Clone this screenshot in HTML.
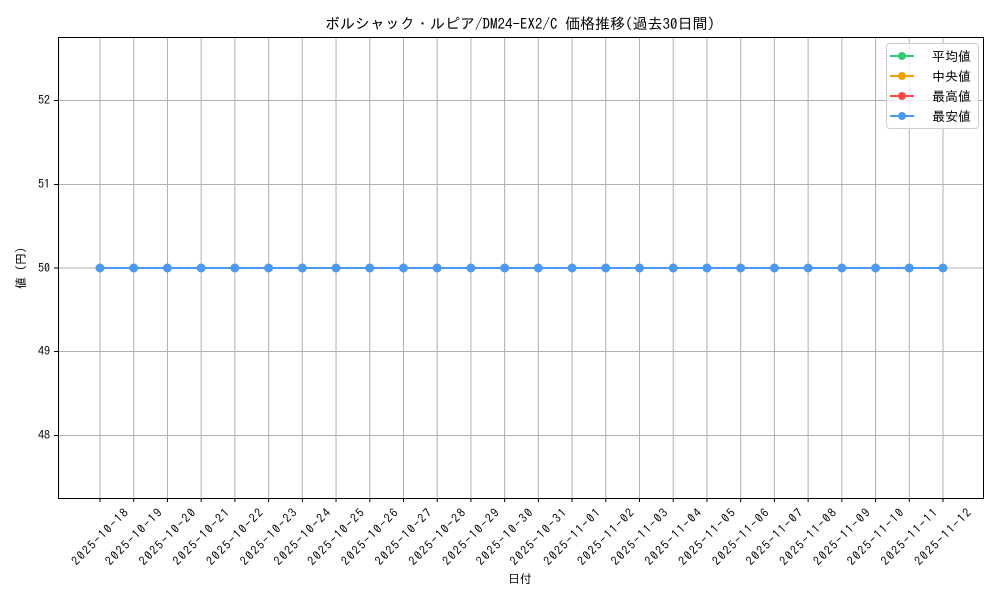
<!DOCTYPE html>
<html><head><meta charset="utf-8"><style>
html,body{margin:0;padding:0;background:#fff;}
svg{display:block;font-family:"IPAGothic","Liberation Sans","Noto Sans CJK JP",sans-serif;}
</style></head><body>
<svg width="1000" height="600" xmlns="http://www.w3.org/2000/svg">
<rect width="1000" height="600" fill="#fff"/>
<g stroke="#b0b0b0" stroke-width="1">
<line x1="58" x2="983" y1="100.5" y2="100.5"/><line x1="58" x2="983" y1="184.5" y2="184.5"/><line x1="58" x2="983" y1="268" y2="268"/><line x1="58" x2="983" y1="351.5" y2="351.5"/><line x1="58" x2="983" y1="435.5" y2="435.5"/>
</g>
<g id="vg" stroke="#b0b0b0" stroke-width="1"></g>
<g font-size="12" fill="#000" text-anchor="end">
<text x="50" y="104">52</text><text x="50" y="188">51</text><text x="50" y="272">50</text><text x="50" y="355">49</text><text x="50" y="439">48</text>
</g>
<g stroke="#000"><line x1="54" x2="58" y1="100.5" y2="100.5"/><line x1="54" x2="58" y1="184.5" y2="184.5"/><line x1="54" x2="58" y1="268" y2="268"/><line x1="54" x2="58" y1="351.5" y2="351.5"/><line x1="54" x2="58" y1="435.5" y2="435.5"/></g>
<g id="xt"></g>
<line x1="100" x2="943" y1="268" y2="268" stroke="#4a9af5" stroke-width="2"/>
<g id="pts" fill="#4a9af5"></g>
<rect x="58.5" y="37.5" width="925" height="461" fill="none" stroke="#000" stroke-width="1"/>
<text x="520" y="29" font-size="15" text-anchor="middle">ボルシャック・ルピア/DM24-EX2/C 価格推移(過去30日間)</text>
<text x="520" y="583" font-size="12" text-anchor="middle">日付</text>
<text transform="translate(25,268) rotate(-90)" font-size="12" text-anchor="middle">値 (円)</text>
<g>
<rect x="886.5" y="43.5" width="92" height="85" rx="3" fill="#fff" fill-opacity="0.8" stroke="#ccc"/>
<line x1="890" x2="914" y1="56" y2="56" stroke="#2ecc71" stroke-width="2"/><circle cx="902" cy="56" r="4" fill="#2ecc71"/>
<line x1="890" x2="914" y1="76" y2="76" stroke="#f5a000" stroke-width="2"/><circle cx="902" cy="76" r="4" fill="#f5a000"/>
<line x1="890" x2="914" y1="96" y2="96" stroke="#ff4a4a" stroke-width="2"/><circle cx="902" cy="96" r="4" fill="#ff4a4a"/>
<line x1="890" x2="914" y1="116" y2="116" stroke="#4a9af5" stroke-width="2"/><circle cx="902" cy="116" r="4" fill="#4a9af5"/>
<g font-size="13"><text x="932" y="61">平均値</text><text x="932" y="81">中央値</text><text x="932" y="101">最高値</text><text x="932" y="121">最安値</text></g>
</g>
<script>
var d=["2025-10-18","2025-10-19","2025-10-20","2025-10-21","2025-10-22","2025-10-23","2025-10-24","2025-10-25","2025-10-26","2025-10-27","2025-10-28","2025-10-29","2025-10-30","2025-10-31","2025-11-01","2025-11-02","2025-11-03","2025-11-04","2025-11-05","2025-11-06","2025-11-07","2025-11-08","2025-11-09","2025-11-10","2025-11-11","2025-11-12"];
var ns="http://www.w3.org/2000/svg",vg=document.getElementById("vg"),xt=document.getElementById("xt"),pts=document.getElementById("pts");
d.forEach(function(s,i){var x=100+i*33.72;
var l=document.createElementNS(ns,"line");l.setAttribute("x1",x);l.setAttribute("x2",x);l.setAttribute("y1",37);l.setAttribute("y2",498);vg.appendChild(l);
var t=document.createElementNS(ns,"line");t.setAttribute("x1",x);t.setAttribute("x2",x);t.setAttribute("y1",498);t.setAttribute("y2",502);t.setAttribute("stroke","#000");xt.appendChild(t);
var tx=document.createElementNS(ns,"text");tx.setAttribute("transform","translate("+x+",537) rotate(-45)");tx.setAttribute("text-anchor","middle");tx.setAttribute("dy","4");tx.setAttribute("font-size","12");tx.setAttribute("textLength","74");tx.textContent=s;xt.appendChild(tx);
var c=document.createElementNS(ns,"circle");c.setAttribute("cx",x);c.setAttribute("cy",268);c.setAttribute("r",4.5);pts.appendChild(c);});
</script>
</svg>
</body></html>
